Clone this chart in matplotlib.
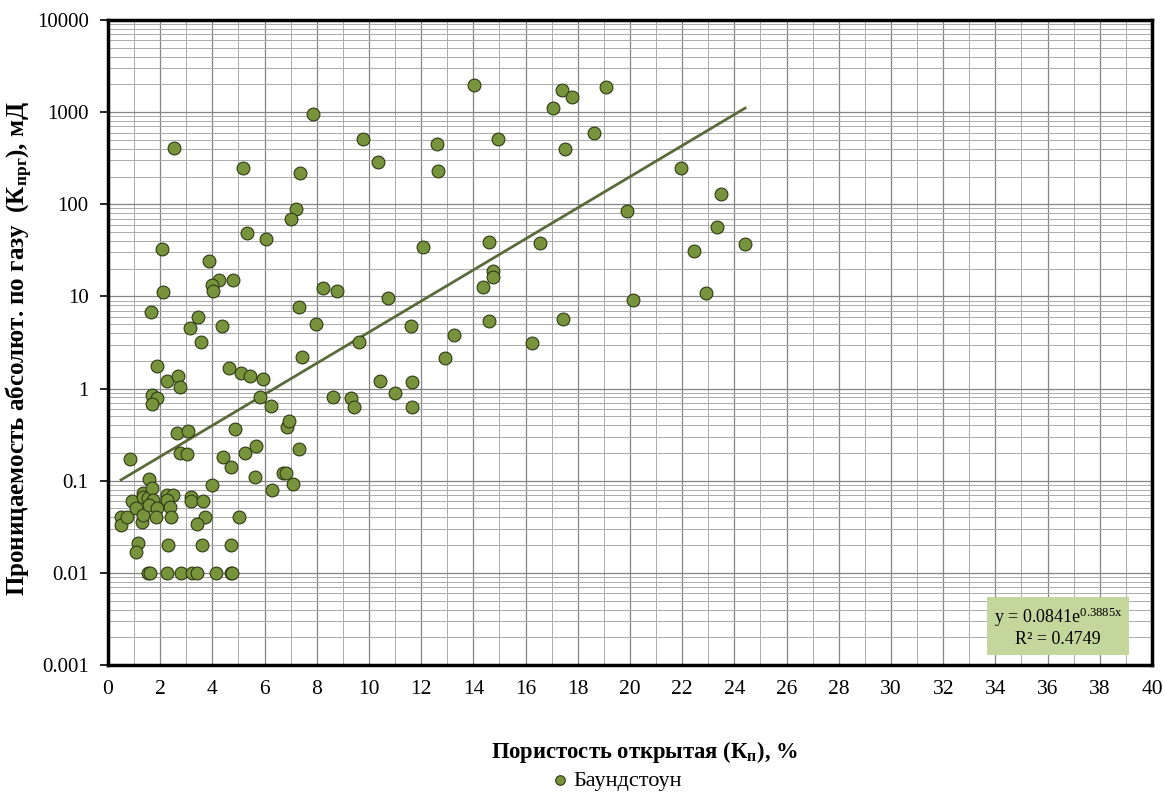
import numpy as np
import matplotlib
matplotlib.use("Agg")
import matplotlib.pyplot as plt
from matplotlib.ticker import MultipleLocator, LogLocator, NullFormatter

# porosity (%) and gas permeability (mD)
porosity = [0.50, 0.50, 0.73, 0.84, 0.92, 1.07, 1.15, 1.07, 1.30, 1.34,
            1.34, 1.34, 1.53, 1.57, 1.69, 1.72, 1.57, 1.88, 1.84, 1.53,
            1.61, 2.26, 2.80, 3.20, 3.40, 4.14, 4.73, 4.77, 2.30, 3.60,
            4.71, 2.26, 2.49, 2.26, 2.38, 2.41, 3.18, 3.18, 3.64, 3.72,
            3.41, 3.98, 5.02, 2.64, 3.07, 2.76, 3.03, 4.87, 4.41, 4.71,
            5.25, 5.67, 5.63, 6.28, 6.70, 6.82, 7.09, 6.86, 6.93, 5.82,
            6.25, 1.69, 1.88, 1.69, 7.32, 2.26, 2.68, 2.76, 1.88, 4.64,
            5.10, 5.44, 5.94, 3.45, 3.14, 4.37, 3.56, 7.32, 7.97, 7.43,
            8.62, 9.31, 9.43, 9.62, 1.65, 2.10, 3.87, 4.25, 3.98, 4.02,
            4.79, 2.07, 5.33, 6.05, 7.20, 7.01, 8.24, 8.77, 2.53, 5.17,
            7.36, 7.85, 9.77, 10.34, 12.60, 12.64, 14.02, 14.94, 17.05, 17.39,
            17.78, 19.08, 18.62, 17.51, 12.07, 14.60, 16.55, 19.89, 14.75, 14.75,
            14.37, 20.11, 10.73, 11.61, 14.60, 17.43, 13.26, 16.25, 12.91, 10.42,
            11.65, 11.00, 11.65, 21.95, 23.49, 23.33, 24.41, 22.45, 22.91]
permeability = [0.040, 0.033, 0.040, 0.17, 0.060, 0.051, 0.021, 0.017, 0.036, 0.042,
                0.073, 0.066, 0.065, 0.104, 0.083, 0.062, 0.054, 0.051, 0.040, 0.01,
                0.01, 0.01, 0.01, 0.01, 0.01, 0.01, 0.01, 0.01, 0.020, 0.020,
                0.020, 0.070, 0.070, 0.062, 0.052, 0.040, 0.067, 0.060, 0.060, 0.040,
                0.034, 0.090, 0.040, 0.33, 0.35, 0.20, 0.195, 0.36, 0.18, 0.14,
                0.20, 0.24, 0.11, 0.079, 0.12, 0.12, 0.092, 0.38, 0.44, 0.81,
                0.65, 0.85, 0.79, 0.68, 0.22, 1.21, 1.37, 1.05, 1.76, 1.67,
                1.47, 1.37, 1.27, 6.0, 4.5, 4.8, 3.2, 7.7, 5.0, 2.2,
                0.81, 0.79, 0.63, 3.2, 6.8, 11.2, 24, 15, 13.3, 11.5,
                15, 33, 49, 42, 89, 69, 12.3, 11.5, 408, 248,
                219, 955, 510, 288, 451, 230, 1970, 510, 1110, 1740,
                1460, 1875, 594, 398, 34, 39, 38, 85, 18.9, 16.3,
                12.6, 9.1, 9.6, 4.8, 5.4, 5.7, 3.8, 3.1, 2.15, 1.21,
                1.18, 0.90, 0.63, 248, 129, 57, 37, 31, 10.9]

# exponential trend y = a*exp(b*x) as printed on the chart
trend_a = 0.0841
trend_b = 0.3885
r2 = 0.4749

x_ticks = list(range(0, 41, 2))
y_ticks = [0.001, 0.01, 0.1, 1, 10, 100, 1000, 10000]
y_tick_labels = ["0.001", "0.01", "0.1", "1", "10", "100", "1000", "10000"]

plt.rcParams['font.family'] = ['Liberation Serif', 'DejaVu Serif']
plt.rcParams['mathtext.fontset'] = 'custom'
plt.rcParams['mathtext.rm'] = 'Liberation Serif'
plt.rcParams['mathtext.bf'] = 'Liberation Serif:bold'
plt.rcParams['mathtext.it'] = 'Liberation Serif'

fig = plt.figure(figsize=(11.65, 7.93), dpi=100)
ax = fig.add_axes([0.0927, 0.1614, 0.8961, 0.8134])

# points
ax.scatter(porosity, permeability, s=85, c='#77933C', edgecolors='#2e3a14',
           linewidths=0.8, zorder=3, label='Баундстоун')

# trend line
xs = np.linspace(min(porosity), max(porosity), 200)
ax.plot(xs, trend_a * np.exp(trend_b * xs), color='#5a6a3a', lw=2, zorder=2)

ax.set_yscale('log')
ax.set_xlim(0, 40)
ax.set_ylim(0.001, 10000)
ax.set_xticks(x_ticks)
ax.xaxis.set_minor_locator(MultipleLocator(1))
ax.set_yticks(y_ticks)
ax.set_yticklabels(y_tick_labels)
ax.yaxis.set_minor_locator(LogLocator(base=10, subs=np.arange(2, 10), numticks=20))
ax.yaxis.set_minor_formatter(NullFormatter())

ax.grid(which='major', color='#858585', lw=0.9, zorder=0)
ax.grid(which='minor', color='#ababab', lw=0.7, zorder=0)
ax.set_axisbelow(True)

ax.tick_params(axis='x', which='both', length=0, pad=11, labelsize=15.5)
ax.tick_params(axis='y', which='major', length=6, width=1.2, direction='out', labelsize=15, pad=8)
ax.tick_params(axis='y', which='minor', length=0)
for sp in ax.spines.values():
    sp.set_linewidth(2.5)
    sp.set_color('black')

# equation box
ax.text(0.91, 0.059, "y = 0.0841e$^{\\mathrm{0.3885x}}$\nR² = " + str(r2),
        transform=ax.transAxes, ha='center', va='center', fontsize=13,
        multialignment='center', zorder=5,
        bbox=dict(facecolor='#C3D69B', edgecolor='none', boxstyle='square,pad=0.35'))

# axis titles
fig.text(0.017, 0.56, "Проницаемость абсолют. по газу  (К$_{\\mathbf{прг}}$), мД",
         rotation=90, ha='center', va='center', fontsize=18, fontweight='bold')
fig.text(0.5536, 0.052, "Пористость открытая (К$_{\\mathbf{п}}$), %",
         ha='center', va='center', fontsize=16.3, fontweight='bold')

fig.legend(loc='center', bbox_to_anchor=(0.530, 0.016), frameon=False,
           fontsize=16, handlelength=0.6, handletextpad=0.3, markerscale=0.75)

plt.savefig("out.png", dpi=100)
plt.close()
